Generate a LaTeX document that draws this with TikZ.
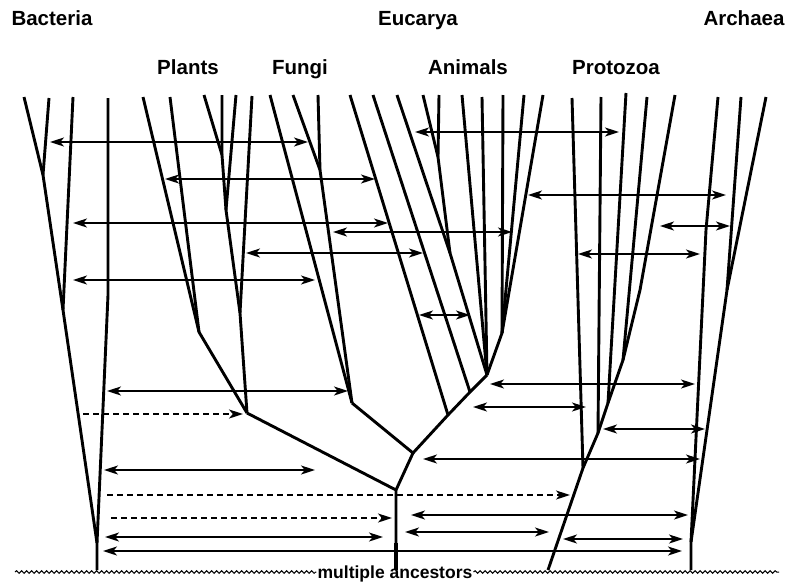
\documentclass[tikz,border=0pt]{standalone}
\usepackage{fontspec}
\setmainfont{Liberation Sans}
\usetikzlibrary{arrows.meta,decorations.pathmorphing}
\begin{document}
\begin{tikzpicture}[x=1pt,y=-1pt,
  branch/.style={line width=2.9pt,line join=round},
  stemthick/.style={line width=4.2pt},
  tip/.tip={Stealth[length=14pt,width=9pt,inset=3.8pt]},
  hgt/.style={line width=1.9pt,tip-tip},
  hgtdash/.style={line width=1.9pt,dash pattern=on 6pt off 4pt,-tip},
  wavy/.style={line width=1pt,decorate,decoration={snake,amplitude=1.3pt,segment length=5pt}},
  grouplabel/.style={font=\bfseries\fontsize{20.5}{20.5}\selectfont,anchor=base,inner sep=0pt},
  baselabel/.style={font=\bfseries\fontsize{17.5}{17.5}\selectfont,anchor=base,inner sep=1pt}]
\useasboundingbox (0,0) rectangle (792,581);
% ---------- junctions ----------
\coordinate (bA) at (43,175);
\coordinate (bB) at (63,310);
\coordinate (bR) at (97,543);
\coordinate (bG) at (97,570);
\coordinate (pA) at (222,155);
\coordinate (pB) at (226,210);
\coordinate (pC) at (240,313);
\coordinate (pD) at (199,332);
\coordinate (pR) at (247,413);
\coordinate (fA) at (320,170);
\coordinate (fR) at (352,403);
\coordinate (aA) at (438,157);
\coordinate (aB) at (450,253);
\coordinate (aC) at (502,333);
\coordinate (aR) at (487,375);
\coordinate (aS) at (470,392);
\coordinate (aT) at (448,415);
\coordinate (eA) at (413,453);
\coordinate (eR) at (396,490);
\coordinate (eL) at (396,543);
\coordinate (eG) at (396,570);
\coordinate (zA) at (640,290);
\coordinate (zB) at (623,360);
\coordinate (zC) at (608,403);
\coordinate (zD) at (598,433);
\coordinate (zE) at (583,468);
\coordinate (zG) at (548,570);
\coordinate (rA) at (727,290);
\coordinate (rR) at (691,542);
\coordinate (rG) at (691,570);
% ---------- Bacteria ----------
\draw[branch] (24,97) -- (bA);
\draw[branch] (49,98) -- (bA) -- (bB);
\draw[branch] (73,97) -- (bB) -- (bR);
\draw[branch] (108,98) -- (108,295) -- (bR) -- (bG);
% ---------- Plants ----------
\draw[branch] (143,97) -- (pD);
\draw[branch] (170,97) -- (pD) -- (pR);
\draw[branch] (204,95) -- (pA);
\draw[branch] (222,95) -- (pA) -- (pB);
\draw[branch] (236,95) -- (pB) -- (pC);
\draw[branch] (252,96) -- (pC) -- (pR);
% ---------- Fungi ----------
\draw[branch] (270,95) -- (fR);
\draw[branch] (293,95) -- (fA);
\draw[branch] (318,95) -- (fA) -- (fR);
% ---------- Animals ----------
\draw[branch] (350,95) -- (aT);
\draw[branch] (373,95) -- (aS);
\draw[branch] (397,95) -- (aB);
\draw[branch] (423,95) -- (aA);
\draw[branch] (439,95) -- (aA) -- (aB) -- (aR);
\draw[branch] (462,95) -- (aR);
\draw[branch] (482,97) -- (aR);
\draw[branch] (503,95) -- (aC);
\draw[branch] (524,95) -- (aC);
\draw[branch] (543,95) -- (aC) -- (aR);
\draw[branch] (aR) -- (aS) -- (aT) -- (eA);
% ---------- Eucarya root ----------
\draw[branch] (fR) -- (eA) -- (eR);
\draw[branch] (pR) -- (eR) -- (eG);
\draw[stemthick] (eL) -- (eG);
% ---------- Protozoa ----------
\draw[branch] (572,98) -- (zE);
\draw[branch] (601,97) -- (zD);
\draw[branch] (626,93) -- (zC);
\draw[branch] (647,97) -- (zB);
\draw[branch] (675,95) -- (zA) -- (zB) -- (zC) -- (zD) -- (zE) -- (zG);
% ---------- Archaea ----------
\draw[branch] (718,97) -- (706,230) -- (rR);
\draw[branch] (741,97) -- (rA);
\draw[branch] (766,97) -- (rA) -- (rR) -- (rG);
% ---------- transfers ----------
\draw[hgt] (50,142) -- (308,142);
\draw[hgt] (165,179) -- (375,179);
\draw[hgt] (73,223) -- (388,223);
\draw[hgt] (333,232) -- (512,232);
\draw[hgt] (246,253) -- (423,253);
\draw[hgt] (73,280) -- (315,280);
\draw[hgt] (415,132) -- (619,132);
\draw[hgt] (528,195) -- (726,195);
\draw[hgt] (660,226) -- (730,226);
\draw[hgt] (578,254) -- (700,254);
\draw[hgt] (419,315) -- (470,315);
\draw[hgt] (107,391) -- (348,391);
\draw[hgtdash] (83,414) -- (243,414);
\draw[hgt] (104,470) -- (315,470);
\draw[hgtdash] (107,495) -- (570,495);
\draw[hgtdash] (111,518) -- (392,518);
\draw[hgt] (105,537) -- (383,537);
\draw[hgt] (103,551) -- (682,551);
\draw[hgt] (490,384) -- (695,384);
\draw[hgt] (473,407) -- (586,407);
\draw[hgt] (603,429) -- (705,429);
\draw[hgt] (423,459) -- (700,459);
\draw[hgt] (411,515) -- (688,515);
\draw[hgt] (405,532) -- (549,532);
\draw[hgt] (563,539) -- (683,539);
% ---------- ground ----------
\node[baselabel] (anc) at (395,578) {multiple ancestors};
\coordinate (wl) at (15,572);
\coordinate (wr) at (779,572);
\draw[wavy] (wl) -- (anc.west |- wl);
\draw[wavy] (anc.east |- wr) -- (wr);
% ---------- labels ----------
\node[grouplabel] (bac) at (52,25) {Bacteria};
\node[grouplabel] (euc) at (418,25) {Eucarya};
\node[grouplabel] (arc) at (744,25) {Archaea};
\node[grouplabel] (pla) at (188,74) {Plants};
\node[grouplabel] (fun) at (300,74) {Fungi};
\node[grouplabel] (ani) at (468,74) {Animals};
\node[grouplabel] (pro) at (616,74) {Protozoa};
\end{tikzpicture}
\end{document}
